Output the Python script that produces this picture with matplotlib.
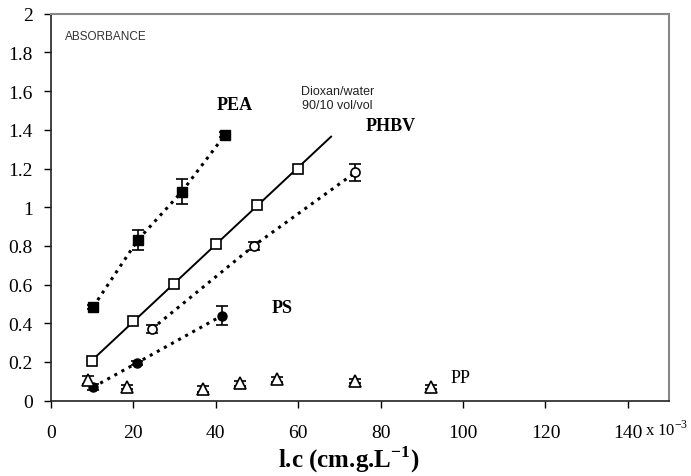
import numpy as np
import matplotlib
matplotlib.use("Agg")
import matplotlib.pyplot as plt

plt.rcParams["font.family"] = ["Liberation Serif", "DejaVu Serif"]
plt.rcParams["mathtext.fontset"] = "custom"
plt.rcParams["mathtext.rm"] = "Liberation Serif"
plt.rcParams["mathtext.bf"] = "Liberation Serif:bold"

#========== DATA ==========#

pea_x = [10.3, 21.1, 31.8, 42.3]
pea_y = [0.485, 0.83, 1.08, 1.375]
pea_err = [0.012, 0.05, 0.065, 0.012]

diox_x = [10, 20, 30, 40, 50, 60]
diox_y = [0.205, 0.41, 0.605, 0.81, 1.01, 1.2]
diox_fit_range = [10, 68]

phbv_x = [24.5, 49.2, 73.9]
phbv_y = [0.37, 0.8, 1.18]
phbv_err = [0.02, 0.02, 0.045]

ps_x = [10.3, 20.9, 41.6]
ps_y = [0.07, 0.195, 0.44]
ps_err = [0.015, 0.012, 0.05]

pp_x = [9.1, 18.4, 37.0, 45.8, 55.0, 73.9, 92.3]
pp_y = [0.105, 0.07, 0.06, 0.09, 0.11, 0.103, 0.07]
pp_err = [0.02, 0.01, 0.015, 0.012, 0.012, 0.01, 0.012]

x_ticks = [0, 20, 40, 60, 80, 100, 120, 140]
y_ticks = [0, 0.2, 0.4, 0.6, 0.8, 1, 1.2, 1.4, 1.6, 1.8, 2]

#========== FIGURE ==========#

fig = plt.figure(figsize=(6.91, 4.77), dpi=100)
ax = fig.add_axes([0.0734, 0.158, 0.895, 0.811])

err_kw = dict(ecolor="black", elinewidth=1.2, capsize=4, capthick=1.2, zorder=3)

# PEA
ax.plot(pea_x, pea_y, color="black", linestyle=":", linewidth=2.2, zorder=2)
ax.errorbar(pea_x, pea_y, yerr=pea_err, fmt="s", color="black", ms=7,
            mfc="black", mec="black", **err_kw)

# dioxan/water reference
coef = np.polyfit(diox_x, diox_y, 1)
ax.plot(diox_fit_range, np.polyval(coef, diox_fit_range), color="black",
        linewidth=1.4, zorder=2)
ax.plot(diox_x, diox_y, "s", ms=7.5, mfc="white", mec="black", mew=1.2, zorder=3)

# PHBV
ax.plot(phbv_x, phbv_y, color="black", linestyle=":", linewidth=2.2, zorder=2)
ax.errorbar(phbv_x, phbv_y, yerr=phbv_err, fmt="o", ms=6.5, mfc="white",
            mec="black", mew=1.2, **err_kw)

# PS
ax.plot(ps_x, ps_y, color="black", linestyle=":", linewidth=2.2, zorder=2)
ax.errorbar(ps_x, ps_y, yerr=ps_err, fmt="o", ms=6.5, mfc="black",
            mec="black", **err_kw)

# PP
ax.errorbar(pp_x, pp_y, yerr=pp_err, fmt="^", ms=8, mfc="white",
            mec="black", mew=1.2, **err_kw)

#========== TEXT ==========#

ax.text(3.5, 1.885, "ABSORBANCE", family="Liberation Sans", fontsize=8.5,
        color="#333333", va="center")
ax.text(44.7, 1.53, "PEA", fontsize=13, fontweight="bold", ha="center", va="center")
ax.text(69.5, 1.565, "Dioxan/water\n90/10 vol/vol", family="Liberation Sans",
        fontsize=9, color="#222222", ha="center", va="center", linespacing=1.15)
ax.text(82.4, 1.42, "PHBV", fontsize=13, fontweight="bold", ha="center", va="center")
ax.text(56.1, 0.484, "PS", fontsize=13, fontweight="bold", ha="center", va="center")
ax.text(99.5, 0.12, "PP", fontsize=13, ha="center", va="center")

#========== AXES ==========#

ax.set_xlim(0, 150)
ax.set_ylim(0, 2)
ax.set_xticks(x_ticks)
ax.set_yticks(y_ticks)
ax.set_xticklabels([str(t) for t in x_ticks])
ax.set_yticklabels(["0"] + [f"{t:g}" for t in y_ticks[1:]])
ax.tick_params(direction="out", length=5, width=1, labelsize=14)
ax.tick_params(axis="x", pad=12)
ax.tick_params(axis="y", pad=8)

for side in ["left", "bottom"]:
    ax.spines[side].set_color("#222222")
    ax.spines[side].set_linewidth(1.2)
for side in ["top", "right"]:
    ax.spines[side].set_color("#888888")
    ax.spines[side].set_linewidth(1.5)

fig.text(0.934, 0.098, r"x 10$^{-3}$", fontsize=12, ha="left", va="center")
fig.text(0.505, 0.036, r"l.c (cm.g.L$^{\mathbf{-1}}$)", fontsize=18,
         fontweight="bold", ha="center", va="center")

fig.savefig("out.png", dpi=100)
